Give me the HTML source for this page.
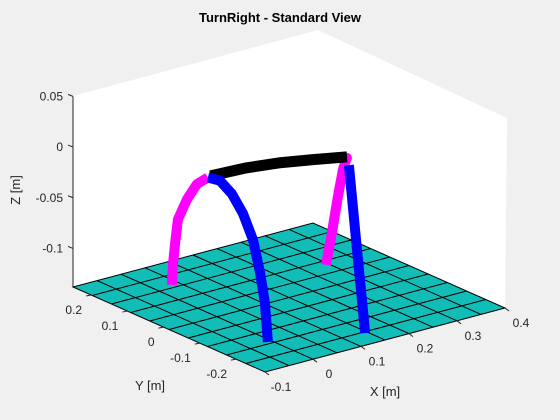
<!DOCTYPE html>
<html><head><meta charset="utf-8"><style>
html,body{margin:0;padding:0;background:#f0f0f0;}
svg{display:block;font-family:"Liberation Sans",Arial,sans-serif;}
</style></head><body>
<svg id="chart" width="560" height="420" viewBox="0 0 560 420" xmlns="http://www.w3.org/2000/svg">
<rect width="560" height="420" fill="#f0f0f0"/>
<text x="280" y="22" text-anchor="middle" font-size="13" font-weight="bold" fill="#000">TurnRight - Standard View</text>
<g id="layer"></g>
<text transform="translate(20,190) rotate(-90)" text-anchor="middle" font-size="13" fill="#262626">Z [m]</text>
<text x="150" y="390" text-anchor="middle" font-size="13" fill="#262626">Y [m]</text>
<text x="385" y="396" text-anchor="middle" font-size="13" fill="#262626">X [m]</text>
</svg>
<script>
// axis limits
const xLim = [-0.1, 0.4];
const yLim = [-0.28, 0.25];
const zFloor = -0.138;
const zTop = 0.05;
const xTicks = [-0.1, 0, 0.1, 0.2, 0.3, 0.4];
const xTickLabels = ["-0.1", "0", "0.1", "0.2", "0.3", "0.4"];
const yTicks = [-0.2, -0.1, 0, 0.1, 0.2];
const yTickLabels = ["-0.2", "-0.1", "0", "0.1", "0.2"];
const zTicks = [-0.1, -0.05, 0, 0.05];
const zTickLabels = ["-0.1", "-0.05", "0", "0.05"];
const gridN = 10;
// left arch (magenta part)
const lmX = [0.011, 0.0106, 0.0097, 0.0083, 0.0043, -0.0002, -0.0051];
const lmY = [0.124, 0.1207, 0.114, 0.1039, 0.0738, 0.0403, 0.0033];
const lmZ = [-0.130, -0.110, -0.089, -0.062, -0.037, -0.016, -0.003];
// left arch (blue part)
const lbX = [-0.0051, -0.0105, -0.0159, -0.0208, -0.0253, -0.0284, -0.0307, -0.032];
const lbY = [0.0033, -0.037, -0.0773, -0.1143, -0.1478, -0.1713, -0.188, -0.198];
const lbZ = [-0.003, 0.001, -0.005, -0.018, -0.038, -0.066, -0.093, -0.130];
// right arch (magenta part)
const rmX = [0.270, 0.247, 0.224, 0.205, 0.190];
const rmY = [0.042, -0.005, -0.052, -0.091, -0.122];
const rmZ = [-0.130, -0.088, -0.042, -0.007, 0.0125];
// right arch (blue part)
const rbX = [0.182, 0.152, 0.137, 0.121];
const rbY = [-0.138, -0.200, -0.231, -0.2635];
const rbZ = [0.008, -0.062, -0.095, -0.130];
// body (black)
const bkX = [-0.006, 0.043, 0.092, 0.141, 0.190];
const bkY = [-0.005, -0.034, -0.0635, -0.093, -0.122];
const bkZ = [0.0, 0.006, 0.0097, 0.0115, 0.0125];

const NS = "http://www.w3.org/2000/svg";
const layer = document.getElementById("layer");
function P(x, y, z) {
  const a = (x - xLim[0]) / (xLim[1] - xLim[0]);
  const b = (y - yLim[0]) / (yLim[1] - yLim[0]);
  const sx = 265 + 240 * a - 192 * b;
  const sy = 372 - 64 * a - 85 * b - 1014 * (z - zFloor);
  return [sx, sy];
}
function mk(tag, attrs) {
  const e = document.createElementNS(NS, tag);
  for (const k in attrs) e.setAttribute(k, attrs[k]);
  layer.appendChild(e);
  return e;
}
function pts(arr) { return arr.map(p => p[0].toFixed(1) + "," + p[1].toFixed(1)).join(" "); }

// back panes (white)
const c = [P(xLim[0], yLim[1], zTop), P(xLim[0], yLim[1], zTop)];
const leftTop = P(xLim[0], yLim[1], zTop);
const farTop = P(xLim[1], yLim[1], zTop);
const rightTop = P(xLim[1], yLim[0], zTop);
const bg = mk("polygon", {points: pts([P(xLim[0], yLim[1], zFloor), [73, 96], [318, 30], [507, 118], P(xLim[1], yLim[0], zFloor), P(xLim[0], yLim[0], zFloor)]), fill: "#ffffff"});



// floor plane
const plane = mk("polygon", {points: pts([P(xLim[0], yLim[0], zFloor), P(xLim[1], yLim[0], zFloor), P(xLim[1], yLim[1], zFloor), P(xLim[0], yLim[1], zFloor)]), fill: "#12bdb8", stroke: "#000", "stroke-width": 1});


for (let i = 1; i < gridN; i++) {
  const xv = xLim[0] + (xLim[1] - xLim[0]) * i / gridN;
  const a = P(xv, yLim[0], zFloor), b = P(xv, yLim[1], zFloor);
  const l = mk("line", {x1: a[0], y1: a[1], x2: b[0], y2: b[1], stroke: "#000", "stroke-width": 1});
  
  
  const yv = yLim[0] + (yLim[1] - yLim[0]) * i / gridN;
  const c2 = P(xLim[0], yv, zFloor), d = P(xLim[1], yv, zFloor);
  const l2 = mk("line", {x1: c2[0], y1: c2[1], x2: d[0], y2: d[1], stroke: "#000", "stroke-width": 1});
  
  
}

// z axis
const za = P(xLim[0], yLim[1], zFloor), zb = P(xLim[0], yLim[1], zTop);
const zAxis = mk("line", {x1: za[0], y1: za[1], x2: zb[0], y2: zb[1], stroke: "#262626", "stroke-width": 1});


zTicks.forEach((t, i) => {
  const p = P(xLim[0], yLim[1], t);
  const tk = mk("line", {x1: p[0], y1: p[1], x2: p[0] - 5, y2: p[1] - 2, stroke: "#262626"});
  
  
  const tx = mk("text", {x: p[0] - 10, y: p[1] + 4, "text-anchor": "end", "font-size": 12, fill: "#262626"});
  tx.textContent = zTickLabels[i];
  
  
});
xTicks.forEach((t, i) => {
  const p = P(t, yLim[0], zFloor);
  const tk = mk("line", {x1: p[0], y1: p[1], x2: p[0] + 4, y2: p[1] + 3, stroke: "#262626"});
  
  
  const tx = mk("text", {x: p[0] + 16, y: p[1] + 19, "text-anchor": "middle", "font-size": 12, fill: "#262626"});
  tx.textContent = xTickLabels[i];
  
  
});
yTicks.forEach((t, i) => {
  const p = P(xLim[0], t, zFloor);
  const tk = mk("line", {x1: p[0], y1: p[1], x2: p[0] - 5, y2: p[1] + 1, stroke: "#262626"});
  
  
  const tx = mk("text", {x: p[0] - 9, y: p[1] + 19, "text-anchor": "end", "font-size": 12, fill: "#262626"});
  tx.textContent = yTickLabels[i];
  
  
});

function curve(xs, ys, zs, color, w, cap) {
  const p = xs.map((x, i) => P(x, ys[i], zs[i]));
  return mk("polyline", {points: pts(p), fill: "none", stroke: color, "stroke-width": w, "stroke-linejoin": "round", "stroke-linecap": cap});
}
const c1 = curve(lmX, lmY, lmZ, "#ff00ff", 10, "butt");


const c3 = curve(rmX, rmY, rmZ, "#ff00ff", 10, "butt");


const tipP = P(rmX[rmX.length - 1], rmY[rmY.length - 1], rmZ[rmZ.length - 1]);
const tip = mk("circle", {cx: tipP[0], cy: tipP[1] + 1, r: 5, fill: "#ff00ff"});


const c5 = curve(bkX, bkY, bkZ, "#000000", 11, "butt");


const c2 = curve(lbX, lbY, lbZ, "#0000ff", 10, "butt");


const c4 = curve(rbX, rbY, rbZ, "#0000ff", 10, "butt");


</script>
</body></html>
